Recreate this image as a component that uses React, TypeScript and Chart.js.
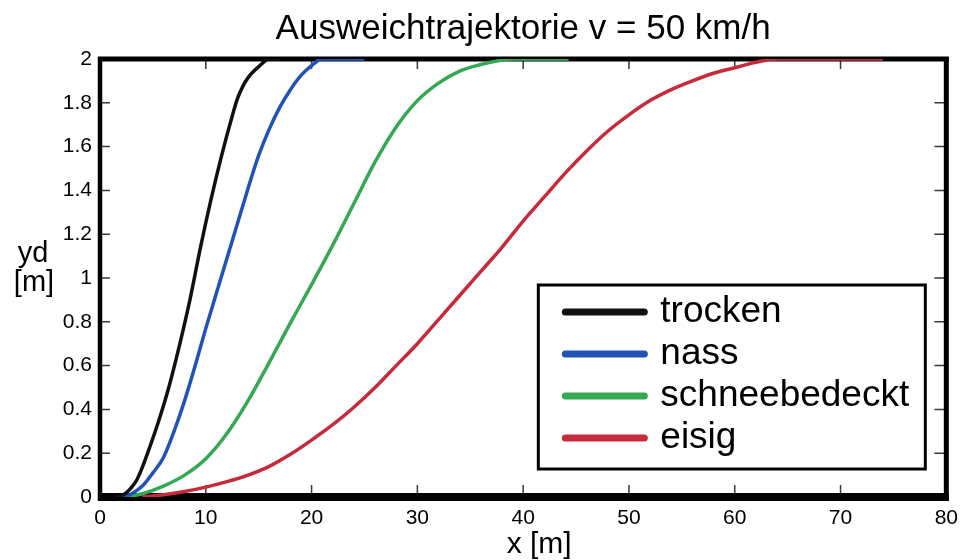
import { useEffect, useRef } from "react";
import { Chart, registerables } from "chart.js";

Chart.register(...registerables);

const FONT = "'Liberation Sans', Arial, Helvetica, sans-serif";

const TITLE = "Ausweichtrajektorie v = 50 km/h";
const X_LABEL = "x [m]";
const Y_LABEL = ["yd", "[m]"];

const X_TICKS = [0, 10, 20, 30, 40, 50, 60, 70, 80];
const Y_TICKS = [0, 0.2, 0.4, 0.6, 0.8, 1, 1.2, 1.4, 1.6, 1.8, 2];

const SERIES_NAMES = ["trocken", "nass", "schneebedeckt", "eisig"];
const SERIES_COLORS = ["#111111", "#2152b8", "#34a853", "#c62b3b"];

// lateral offset yd [m] over distance x [m]
const trockenX = [1.5, 2.0, 2.5, 3.0, 3.5, 4.0, 4.5, 5.5, 6.5, 7.5, 8.5, 9.5, 10.5, 11.5, 12.5, 13.0, 13.5, 14.0, 15.0, 16.0, 17.0];
const trockenY = [0, 0.005, 0.02, 0.045, 0.08, 0.135, 0.2, 0.34, 0.5, 0.69, 0.9, 1.14, 1.36, 1.56, 1.74, 1.82, 1.875, 1.915, 1.965, 2.0, 2.0];

const nassX = [2.2, 3, 4, 5, 6, 7, 8, 9, 10, 11, 12, 13, 14, 15, 16, 17, 18, 19, 20, 21, 25];
const nassY = [0, 0.015, 0.05, 0.11, 0.18, 0.3, 0.44, 0.6, 0.77, 0.93, 1.09, 1.25, 1.41, 1.56, 1.68, 1.78, 1.86, 1.925, 1.97, 2.0, 2.0];

const schneeX = [2.5, 4, 6, 8, 10, 12, 14, 16, 18, 20, 22, 24, 26, 28, 30, 32, 34, 36, 38, 39, 44.3];
const schneeY = [0, 0.015, 0.05, 0.1, 0.175, 0.29, 0.44, 0.615, 0.795, 0.97, 1.15, 1.34, 1.53, 1.69, 1.81, 1.89, 1.945, 1.975, 1.995, 2.0, 2.0];

const eisigX = [4, 6, 8, 10, 12, 14, 16, 18, 20, 22, 24, 26, 28, 30, 32, 34, 36, 38, 40, 42, 44, 46, 48, 50, 52, 54, 56, 58, 60, 62, 64, 74];
const eisigY = [0, 0.01, 0.025, 0.045, 0.07, 0.1, 0.14, 0.195, 0.26, 0.33, 0.41, 0.5, 0.6, 0.7, 0.81, 0.92, 1.03, 1.14, 1.26, 1.37, 1.48, 1.58, 1.67, 1.745, 1.81, 1.86, 1.9, 1.935, 1.96, 1.985, 2.0, 2.0];

const SERIES_X = [trockenX, nassX, schneeX, eisigX];
const SERIES_Y = [trockenY, nassY, schneeY, eisigY];

// axis frame with inward tick marks on all four sides
const framePlugin = {
  id: "frame",
  beforeDatasetsDraw(chart: any) {
    const { ctx, chartArea: a, scales } = chart;
    const xs = scales.x;
    const ys = scales.y;
    ctx.save();
    ctx.strokeStyle = "#3a3a3a";
    ctx.lineWidth = 1.5;
    ctx.beginPath();
    X_TICKS.forEach((v) => {
      const px = xs.getPixelForValue(v);
      ctx.moveTo(px, a.bottom - 4);
      ctx.lineTo(px, a.bottom - 12);
      ctx.moveTo(px, a.top + 2);
      ctx.lineTo(px, a.top + 10);
    });
    Y_TICKS.forEach((v) => {
      const py = ys.getPixelForValue(v);
      ctx.moveTo(a.left + 2, py);
      ctx.lineTo(a.left + 10, py);
      ctx.moveTo(a.right - 2, py);
      ctx.lineTo(a.right - 12, py);
    });
    ctx.stroke();

    ctx.strokeStyle = "#000";
    ctx.lineCap = "butt";
    // left
    ctx.lineWidth = 4.5;
    ctx.beginPath();
    ctx.moveTo(a.left, a.top - 2);
    ctx.lineTo(a.left, a.bottom + 4);
    ctx.stroke();
    // right
    ctx.lineWidth = 5;
    ctx.beginPath();
    ctx.moveTo(a.right, a.top - 2);
    ctx.lineTo(a.right, a.bottom + 4);
    ctx.stroke();
    // top
    ctx.lineWidth = 5;
    ctx.beginPath();
    ctx.moveTo(a.left - 2, a.top);
    ctx.lineTo(a.right + 2.5, a.top);
    ctx.stroke();
    // bottom
    ctx.lineWidth = 8;
    ctx.beginPath();
    ctx.moveTo(a.left - 2, a.bottom);
    ctx.lineTo(a.right + 2.5, a.bottom);
    ctx.stroke();
    ctx.restore();
  },
  afterDatasetsDraw(chart: any) {
    const { ctx, chartArea: a } = chart;
    ctx.save();
    // legend box inside the plot, lower right
    const bx = a.right - 408;
    const by = a.bottom - 212;
    const bw = 387;
    const bh = 184;
    ctx.fillStyle = "#fff";
    ctx.fillRect(bx, by, bw, bh);
    ctx.strokeStyle = "#000";
    ctx.lineWidth = 3;
    ctx.strokeRect(bx, by, bw, bh);

    ctx.font = `37px ${FONT}`;
    ctx.textAlign = "left";
    ctx.textBaseline = "alphabetic";
    SERIES_NAMES.forEach((name, i) => {
      const y = by + 27 + i * 42;
      ctx.strokeStyle = SERIES_COLORS[i];
      ctx.lineWidth = 7;
      ctx.lineCap = "round";
      ctx.beginPath();
      ctx.moveTo(bx + 27, y);
      ctx.lineTo(bx + 106, y);
      ctx.stroke();
      ctx.fillStyle = "#000";
      ctx.fillText(name, bx + 122, y + 10);
    });
    ctx.restore();
  },
  afterDraw(chart: any) {
    const { ctx, chartArea: a } = chart;
    ctx.save();
    ctx.fillStyle = "#000";
    ctx.font = `30px ${FONT}`;
    ctx.textAlign = "center";
    ctx.textBaseline = "alphabetic";
    ctx.fillText(X_LABEL, (a.left + a.right) / 2 + 16, 553);
    ctx.font = `29px ${FONT}`;
    ctx.fillText(Y_LABEL[0], 33, 262);
    ctx.fillText(Y_LABEL[1], 34, 291);
    ctx.restore();
  },
};

export default function App() {
  const canvasRef = useRef<HTMLCanvasElement | null>(null);

  useEffect(() => {
    const canvas = canvasRef.current;
    if (!canvas) return;

    const datasets = SERIES_NAMES.map((name, i) => ({
      label: name,
      data: SERIES_X[i].map((x, j) => ({ x, y: SERIES_Y[i][j] })),
      borderColor: SERIES_COLORS[i],
      backgroundColor: SERIES_COLORS[i],
      borderWidth: 3.5,
      pointRadius: 0,
      fill: false,
      cubicInterpolationMode: "monotone" as const,
    }));

    const chart = new Chart(canvas, {
      type: "line",
      data: { datasets },
      plugins: [framePlugin],
      options: {
        animation: false,
        responsive: false,
        devicePixelRatio: 1,
        layout: { padding: { left: 0, right: 19, top: 0, bottom: 0 } },
        plugins: {
          legend: { display: false },
          tooltip: { enabled: false },
          title: {
            display: true,
            text: TITLE,
            fullSize: false,
            color: "#000",
            font: { family: FONT, size: 35, weight: "normal" },
            padding: { top: 8, bottom: 9 },
          },
        },
        scales: {
          x: {
            type: "linear",
            min: 0,
            max: 80,
            afterFit: (s: any) => {
              s.height = 63;
            },
            afterBuildTicks: (s: any) => {
              s.ticks = X_TICKS.map((v) => ({ value: v }));
            },
            border: { display: false },
            grid: { display: false, drawTicks: false },
            ticks: {
              color: "#000",
              font: { family: FONT, size: 21 },
              padding: 9,
              maxRotation: 0,
              autoSkip: false,
              callback: (v: any) => String(v),
            },
          },
          y: {
            type: "linear",
            min: 0,
            max: 2,
            afterFit: (s: any) => {
              s.width = 100;
            },
            afterBuildTicks: (s: any) => {
              s.ticks = Y_TICKS.map((v) => ({ value: v }));
            },
            border: { display: false },
            grid: { display: false, drawTicks: false },
            ticks: {
              color: "#000",
              font: { family: FONT, size: 21 },
              padding: 8,
              autoSkip: false,
              callback: (v: any) => String(Number(Number(v).toFixed(1))),
            },
          },
        },
      },
    });

    return () => chart.destroy();
  }, []);

  return (
    <div style={{ position: "absolute", left: 0, top: 0, width: 967, height: 560, background: "#fff" }}>
      <canvas ref={canvasRef} width={967} height={560} style={{ display: "block" }} />
    </div>
  );
}
